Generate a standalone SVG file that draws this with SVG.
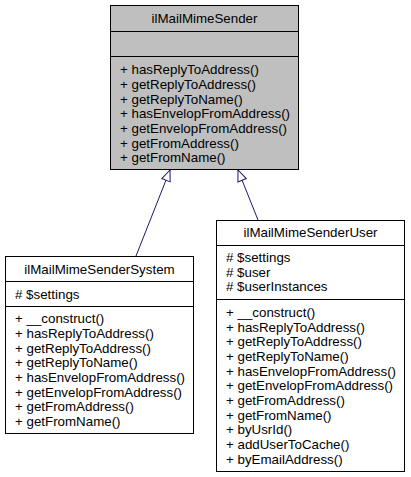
<svg xmlns="http://www.w3.org/2000/svg" width="411" height="477" viewBox="0 0 411 477">
<style>
text{font-family:"Liberation Sans",Arial,Helvetica,sans-serif;font-size:13.33px;fill:#000}
.t{text-anchor:middle}
.box{fill:#fff;stroke:#000;stroke-width:1}
.base{fill:#bfbfbf;stroke:#000;stroke-width:1}
.sep{stroke:#000;stroke-width:1}
.edge{fill:none;stroke:#191970;stroke-width:1}
</style>
<defs>
<marker id="inh" markerUnits="userSpaceOnUse" markerWidth="14" markerHeight="12" viewBox="-12 -6 14 12" refX="0" refY="0" orient="auto">
<path d="M0,0 L-11,-4.5 L-11,4.5 Z" fill="#fff" stroke="#191970" stroke-width="1"/>
</marker>
</defs>
<g id="connectors">
<path class="edge" d="M136,256 L170,170" marker-end="url(#inh)"/>
<path class="edge" d="M258,220 L238,170" marker-end="url(#inh)"/>
</g>
<g id="ilMailMimeSender">
<rect class="base" x="110.5" y="5.5" width="188" height="164"/>
<line class="sep" x1="110.5" y1="31.5" x2="298.5" y2="31.5"/>
<line class="sep" x1="110.5" y1="56.5" x2="298.5" y2="56.5"/>
<text class="t" x="204.5" y="23">ilMailMimeSender</text>
<text x="120" y="74.2">+ hasReplyToAddress()</text>
<text x="120" y="88.9">+ getReplyToAddress()</text>
<text x="120" y="103.5">+ getReplyToName()</text>
<text x="120" y="118.2">+ hasEnvelopFromAddress()</text>
<text x="120" y="132.9">+ getEnvelopFromAddress()</text>
<text x="120" y="147.5">+ getFromAddress()</text>
<text x="120" y="162.2">+ getFromName()</text>
</g>
<g id="ilMailMimeSenderSystem">
<rect class="box" x="5.5" y="256.5" width="188" height="177"/>
<line class="sep" x1="5.5" y1="281.5" x2="193.5" y2="281.5"/>
<line class="sep" x1="5.5" y1="306.5" x2="193.5" y2="306.5"/>
<text class="t" x="99.5" y="273.5">ilMailMimeSenderSystem</text>
<text x="15" y="298.5"># $settings</text>
<text x="15" y="323.4">+ __construct()</text>
<text x="15" y="338.1">+ hasReplyToAddress()</text>
<text x="15" y="352.7">+ getReplyToAddress()</text>
<text x="15" y="367.4">+ getReplyToName()</text>
<text x="15" y="382.1">+ hasEnvelopFromAddress()</text>
<text x="15" y="396.8">+ getEnvelopFromAddress()</text>
<text x="15" y="411.4">+ getFromAddress()</text>
<text x="15" y="426.1">+ getFromName()</text>
</g>
<g id="ilMailMimeSenderUser">
<rect class="box" x="216.5" y="220.5" width="188" height="251"/>
<line class="sep" x1="216.5" y1="245.5" x2="404.5" y2="245.5"/>
<line class="sep" x1="216.5" y1="299.5" x2="404.5" y2="299.5"/>
<text class="t" x="310.5" y="237.2">ilMailMimeSenderUser</text>
<text x="226" y="262"># $settings</text>
<text x="226" y="276.7"># $user</text>
<text x="226" y="291.4"># $userInstances</text>
<text x="226" y="316.9">+ __construct()</text>
<text x="226" y="331.5">+ hasReplyToAddress()</text>
<text x="226" y="346.2">+ getReplyToAddress()</text>
<text x="226" y="360.9">+ getReplyToName()</text>
<text x="226" y="375.5">+ hasEnvelopFromAddress()</text>
<text x="226" y="390.2">+ getEnvelopFromAddress()</text>
<text x="226" y="404.9">+ getFromAddress()</text>
<text x="226" y="419.6">+ getFromName()</text>
<text x="226" y="434.2">+ byUsrId()</text>
<text x="226" y="448.9">+ addUserToCache()</text>
<text x="226" y="463.6">+ byEmailAddress()</text>
</g>
</svg>
